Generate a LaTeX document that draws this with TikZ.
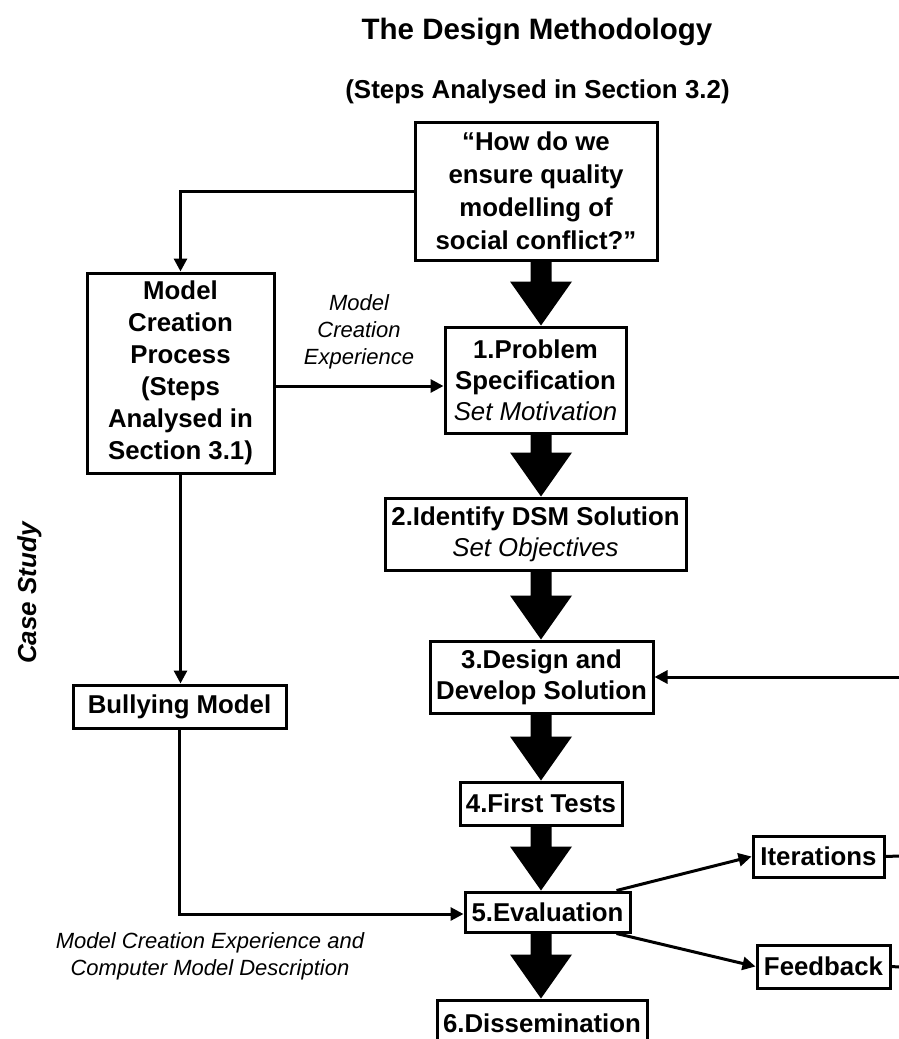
\documentclass[tikz,border=0pt]{standalone}
\usepackage{fontspec}
\setmainfont{Liberation Sans}
\usetikzlibrary{arrows.meta,calc}
\begin{document}
\begin{tikzpicture}[x=1pt,y=-1pt,
  box/.style={draw,line width=3pt,inner sep=0pt,align=center,
    font={\fontsize{25.8}{31}\selectfont\bfseries}},
  note/.style={align=center,inner sep=0pt,
    font={\fontsize{22}{27}\selectfont\itshape}},
  conn/.style={line width=3pt,-{Triangle[length=13pt,width=13pt]}},
  plain/.style={line width=3pt},
  fat/.style={to path={let \p1=(\tikztostart),\p2=(\tikztotarget) in
    (\x1-10.5pt,\y1) -- (\x1-10.5pt,\y2+44pt) -- (\x1-31pt,\y2+44pt) --
    (\x1,\y2) -- (\x1+31pt,\y2+44pt) -- (\x1+10.5pt,\y2+44pt) --
    (\x1+10.5pt,\y1) -- cycle}}
]
\useasboundingbox (0,0) rectangle (899,1039);
\clip (0,0) rectangle (899,1039);

% headings
\node[anchor=base,inner sep=0pt,font={\fontsize{29.5}{35}\selectfont\bfseries}]
  (title) at (537,39) {The Design Methodology};
\node[anchor=base,inner sep=0pt,font={\fontsize{25.9}{31}\selectfont\bfseries}]
  (subtitle) at (537.5,98) {(Steps Analysed in Section 3.2)};

% side label
\node[rotate=90,anchor=base,inner sep=0pt,
  font={\fontsize{26}{30}\selectfont\bfseries\itshape}] (cs) at (36,593) {Case Study};

% main column
\coordinate (col) at (541,0);
\node[box,minimum width=242pt,minimum height=138pt,
  font={\fontsize{25.8}{33}\selectfont\bfseries}] (q) at (536,191)
  {“How do we\\ensure quality\\modelling of\\social conflict?”};
\node[box,minimum width=181pt,minimum height=106pt] (b1) at (535.5,380)
  {1.Problem\\Specification\\{\mdseries\itshape Set Motivation}};
\node[box,minimum width=301pt,minimum height=72pt] (b2) at (535.5,534)
  {2.Identify DSM Solution\\{\mdseries\itshape Set Objectives}};
\node[box,minimum width=223pt,minimum height=72pt] (b3) at (541.5,677)
  {3.Design and\\Develop Solution};
\node[box,minimum width=162pt,minimum height=43pt] (b4) at (541,803.5)
  {4.First Tests};
\node[box,minimum width=165pt,minimum height=40pt] (b5) at (547.5,912)
  {5.Evaluation};
\node[box,minimum width=210pt,minimum height=46pt] (b6) at (542,1023)
  {6.Dissemination};

% left column
\node[box,minimum width=187pt,minimum height=200pt,
  font={\fontsize{25.8}{32}\selectfont\bfseries}] (mc) at (180.5,373)
  {Model\\Creation\\Process\\(Steps\\Analysed in\\Section 3.1)};
\node[box,minimum width=213pt,minimum height=43pt] (bm) at (179.5,706.5)
  {Bullying Model};

% right column
\node[box,minimum width=131pt,minimum height=41pt] (it) at (818.5,856.5)
  {Iterations};
\node[box,minimum width=133pt,minimum height=43pt] (fb) at (823.5,966.5)
  {Feedback};
\coordinate (itR) at (899,856);
\coordinate (fbR) at (899,967);
\coordinate (b3R) at (899,677);

% labels on connectors
\node[note] (l1) at (359,332) {Model\\Creation\\Experience};
\node[note] (l2) at (210,956) {Model Creation Experience and\\Computer Model Description};

% thick step arrows
\fill (q.south -| col) to[fat] (b1.north -| col);
\fill (b1.south -| col) to[fat] (b2.north -| col);
\fill (b2.south -| col) to[fat] (b3.north -| col);
\fill (b3.south -| col) to[fat] (b4.north -| col);
\fill (b4.south -| col) to[fat] (b5.north -| col);
\fill (b5.south -| col) to[fat] (b6.north -| col);

% thin connectors
\draw[conn] (q.west) -| (mc.north);
\draw[conn] ([yshift=-6pt]b1.west -| mc.east) -- ([yshift=-6pt]b1.west);
\draw[conn] (mc.south) -- (mc.south |- bm.north);
\draw[conn] (bm.south) |- ([yshift=-2pt]b5.west);
\draw[conn] ([xshift=-15pt]b5.north east) -- (it.west);
\draw[conn] ([xshift=-15pt]b5.south east) -- (fb.west);
\draw[plain] (it.east) -- (itR);
\draw[plain] (fb.east) -- (fbR);
\draw[conn] (b3R) -- (b3.east);
\end{tikzpicture}
\end{document}
